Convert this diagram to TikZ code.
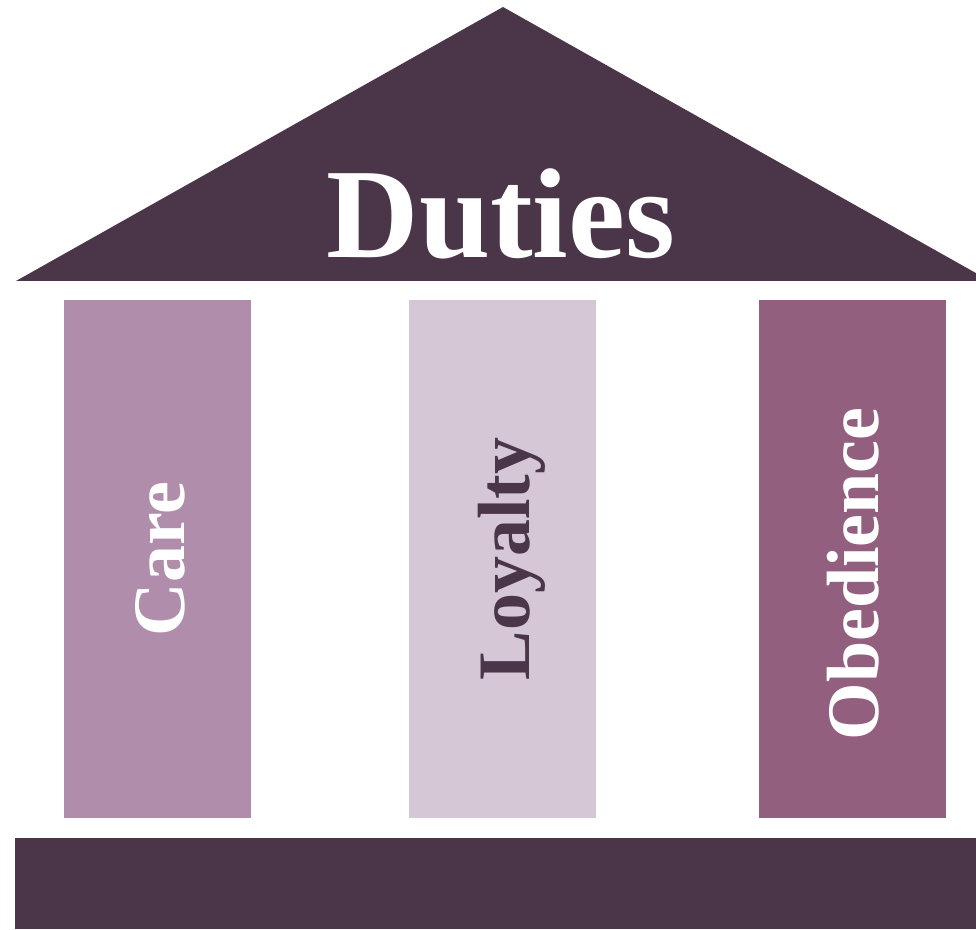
\documentclass[tikz,border=0pt]{standalone}
\usepackage{fontspec}
\setmainfont{Liberation Serif}
\definecolor{roofc}{HTML}{4A3549}
\definecolor{carec}{HTML}{B08EAB}
\definecolor{loyalc}{HTML}{D6C7D7}
\definecolor{obedc}{HTML}{925F7E}
\tikzset{
  pillar/.style={anchor=center, minimum width=187pt, minimum height=518pt, inner sep=0pt},
  pillarlabel/.style={rotate=90, font=\fontsize{74}{74}\selectfont\bfseries}
}
\begin{document}
\begin{tikzpicture}[x=1pt, y=1pt]
      \useasboundingbox (0, 0) rectangle (976, 929);
      \clip (0, 0) rectangle (976, 929);
      % roof and floor
      \fill[roofc] (16, 648) -- (503, 922) -- (990, 648) -- cycle;
      \fill[roofc] (15, 0) rectangle (990, 91);
      \node[text=white, font=\fontsize{128}{128}\selectfont\bfseries] (duties) at (501, 715) {Duties};
      % the three pillars
      \node[pillar, fill=carec] (care) at (157.5, 370) {};
      \node[pillar, fill=loyalc] (loyalty) at (502.5, 370) {};
      \node[pillar, fill=obedc] (obedience) at (852.5, 370) {};
      \node[pillarlabel, text=white] at ([xshift=3]care) {Care};
      \node[pillarlabel, text=roofc] at ([xshift=9]loyalty) {Loyalty};
      \node[pillarlabel, text=white] at ([xshift=1, yshift=-15]obedience) {Obedience};
    \end{tikzpicture}
\end{document}
